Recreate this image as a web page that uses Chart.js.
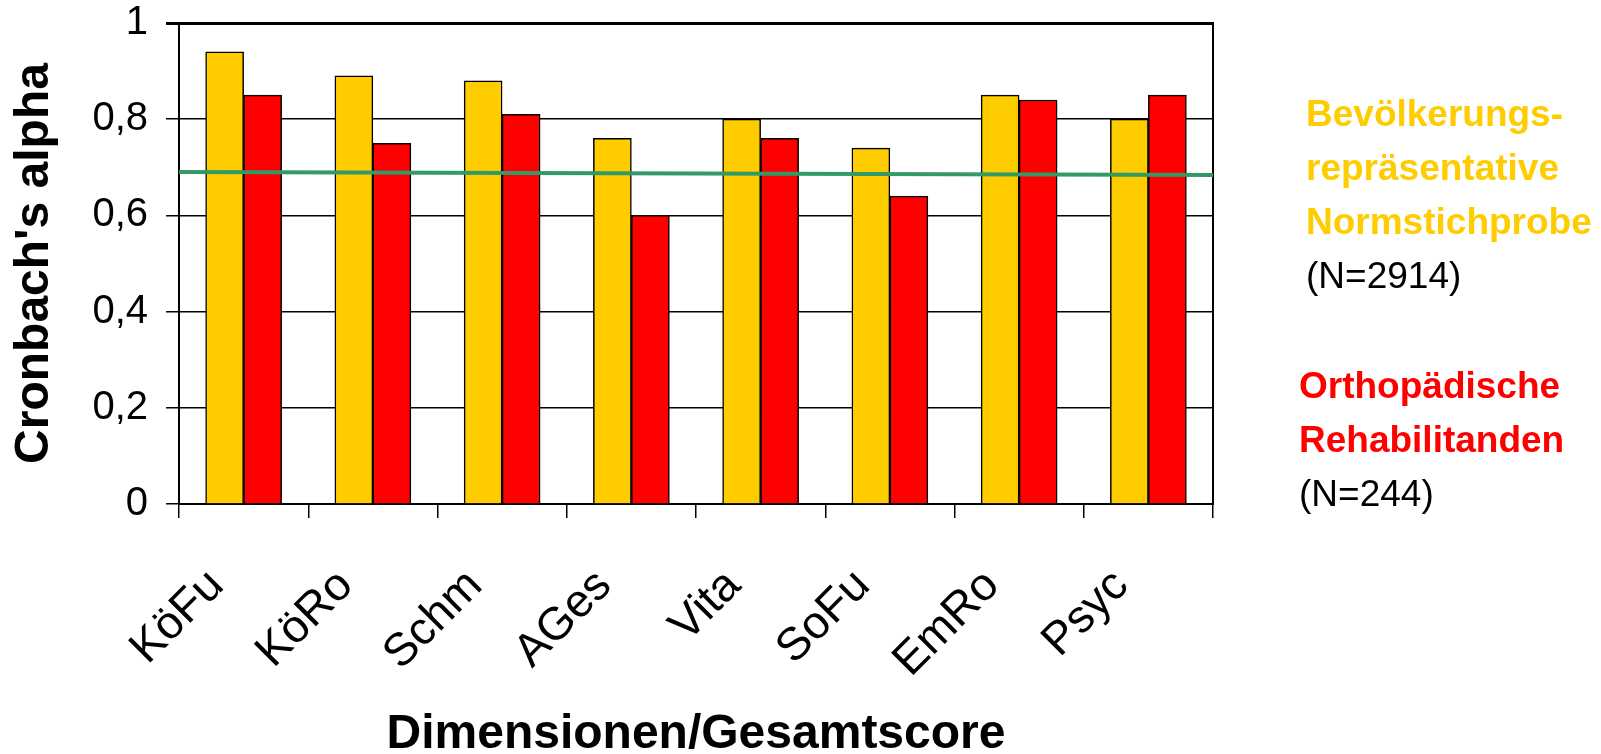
<!DOCTYPE html>
<html>
<head>
<meta charset="utf-8">
<script src="https://cdn.jsdelivr.net/npm/chart.js@4.4.0/dist/chart.umd.min.js"></script>
<style>
  html, body { margin: 0; padding: 0; background: #ffffff; }
  #wrap { position: relative; width: 1601px; height: 754px; overflow: hidden; }
  #c { position: absolute; left: 0; top: 0; }
  .leg { position: absolute; font-family: "Liberation Sans", Arial, sans-serif; font-size: 37px; line-height: 54px; white-space: nowrap; color: #000; }
  .b { font-weight: bold; }
</style>
</head>
<body>
<div id="wrap">
  <canvas id="c" width="1601" height="754"></canvas>
  <div class="leg" style="left:1306px; top:87px;">
    <div class="b" style="color:#FFCC00;">Bevölkerungs-</div>
    <div class="b" style="color:#FFCC00;">repräsentative</div>
    <div class="b" style="color:#FFCC00;">Normstichprobe</div>
    <div>(N=2914)</div>
  </div>
  <div class="leg" style="left:1299px; top:359px;">
    <div class="b" style="color:#FF0000;">Orthopädische</div>
    <div class="b" style="color:#FF0000;">Rehabilitanden</div>
    <div>(N=244)</div>
  </div>
</div>
<script>
// Scale dimensions (categories)
const categories = ['KöFu', 'KöRo', 'Schm', 'AGes', 'Vita', 'SoFu', 'EmRo', 'Psyc'];

// Cronbach's alpha, population norm sample (N=2914)
const normSample = [0.94, 0.89, 0.88, 0.76, 0.80, 0.74, 0.85, 0.80];

// Cronbach's alpha, orthopaedic rehabilitation patients (N=244)
const rehabSample = [0.85, 0.75, 0.81, 0.60, 0.76, 0.64, 0.84, 0.85];

// Reference line across the plot: value at left edge, value at right edge
const refLineX = [0, 1];
const refLineY = [0.69, 0.684];

// Y axis tick labels (German decimal comma)
const yTickValues = [0, 0.2, 0.4, 0.6, 0.8, 1];
const yTickLabels = ['0', '0,2', '0,4', '0,6', '0,8', '1'];

const FONT = '"Liberation Sans", Arial, sans-serif';

const refLinePoints = refLineX.map((x, i) => ({ x: x, y: refLineY[i] }));

new Chart(document.getElementById('c'), {
  type: 'bar',
  data: {
    labels: categories,
    datasets: [
      {
        type: 'line',
        label: 'Referenz',
        data: refLinePoints,
        xAxisID: 'xl',
        yAxisID: 'y',
        borderColor: '#339966',
        borderWidth: 4,
        pointRadius: 0,
        fill: false,
        tension: 0,
        order: 0,
        clip: false
      },
      {
        type: 'bar',
        label: 'Bevölkerungsrepräsentative Normstichprobe',
        data: normSample,
        xAxisID: 'x',
        yAxisID: 'y',
        backgroundColor: '#FFCC00',
        borderColor: '#000000',
        borderWidth: 1.5,
        barThickness: 38,
        order: 1
      },
      {
        type: 'bar',
        label: 'Orthopädische Rehabilitanden',
        data: rehabSample,
        xAxisID: 'x',
        yAxisID: 'y',
        backgroundColor: '#FF0000',
        borderColor: '#000000',
        borderWidth: 1.5,
        barThickness: 38,
        order: 2
      }
    ]
  },
  options: {
    responsive: false,
    animation: false,
    events: [],
    layout: { padding: { left: 0, top: 23, right: 388, bottom: 0 } },
    plugins: {
      legend: { display: false },
      tooltip: { enabled: false }
    },
    scales: {
      x: {
        type: 'category',
        position: 'bottom',
        offset: true,
        grid: {
          display: true,
          offset: true,
          drawOnChartArea: false,
          drawTicks: true,
          tickLength: 14,
          color: '#000000',
          lineWidth: 1.5
        },
        border: { display: true, color: '#000000', width: 2 },
        ticks: {
          autoSkip: false,
          minRotation: 45,
          maxRotation: 45,
          padding: 41,
          labelOffset: -27,
          color: '#000000',
          font: { family: FONT, size: 46 }
        },
        title: {
          display: true,
          text: 'Dimensionen/Gesamtscore',
          color: '#000000',
          font: { family: FONT, size: 48, weight: 'bold', lineHeight: 0.82 },
          padding: { top: 0, bottom: 0 }
        },
        afterFit: (scale) => {
          scale.height = 250;
          scale.paddingLeft = 0;
          scale.paddingRight = 0;
        }
      },
      xl: {
        type: 'linear',
        axis: 'x',
        display: false,
        offset: false,
        grid: { offset: false },
        min: refLineX[0],
        max: refLineX[refLineX.length - 1]
      },
      y: {
        type: 'linear',
        position: 'left',
        min: 0,
        max: 1,
        afterBuildTicks: (scale) => {
          scale.ticks = yTickValues.map(v => ({ value: v }));
        },
        grid: {
          display: true,
          drawTicks: true,
          tickLength: 13,
          color: '#000000',
          lineWidth: (ctx) => (ctx.tick && ctx.tick.value === 1 ? 3 : 1.5)
        },
        border: { display: true, color: '#000000', width: 2 },
        ticks: {
          padding: 18,
          color: '#000000',
          font: { family: FONT, size: 40 },
          callback: (value) => yTickLabels[yTickValues.indexOf(value)]
        },
        title: {
          display: true,
          text: "Cronbach's alpha",
          color: '#000000',
          font: { family: FONT, size: 48, weight: 'bold', lineHeight: 1 },
          padding: { top: 11, bottom: 0 }
        },
        afterFit: (scale) => {
          scale.width = 179;
          scale.paddingTop = 0;
          scale.paddingBottom = 0;
        }
      },
      yr: {
        type: 'linear',
        position: 'right',
        min: 0,
        max: 1,
        grid: { display: false, drawTicks: false },
        ticks: { display: false },
        border: { display: true, color: '#000000', width: 2 },
        afterFit: (scale) => {
          scale.width = 0;
          scale.paddingTop = 0;
          scale.paddingBottom = 0;
        }
      }
    }
  }
});
</script>
</body>
</html>
